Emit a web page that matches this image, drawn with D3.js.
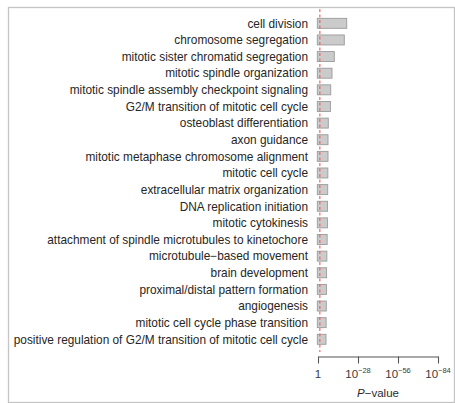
<!DOCTYPE html>
<html>
<head>
<meta charset="utf-8">
<script src="https://cdn.jsdelivr.net/npm/d3@7"></script>
<style>
  html, body { margin: 0; padding: 0; background: #fff; }
  svg { display: block; font-family: "Liberation Sans", Arial, Helvetica, sans-serif; }
</style>
</head>
<body>
<svg id="chart" width="455" height="403"></svg>
<script>
// GO biological process terms, top to bottom
const terms = [
  "cell division",
  "chromosome segregation",
  "mitotic sister chromatid segregation",
  "mitotic spindle organization",
  "mitotic spindle assembly checkpoint signaling",
  "G2/M transition of mitotic cell cycle",
  "osteoblast differentiation",
  "axon guidance",
  "mitotic metaphase chromosome alignment",
  "mitotic cell cycle",
  "extracellular matrix organization",
  "DNA replication initiation",
  "mitotic cytokinesis",
  "attachment of spindle microtubules to kinetochore",
  "microtubule\u2212based movement",
  "brain development",
  "proximal/distal pattern formation",
  "angiogenesis",
  "mitotic cell cycle phase transition",
  "positive regulation of G2/M transition of mitotic cell cycle"
];

// -log10(P-value) for each term
const negLog10P = [20.1, 18.4, 11.4, 9.8, 8.9, 8.7, 7.2, 7.0, 7.0, 6.9,
                   6.8, 6.7, 6.6, 6.4, 6.2, 6.0, 5.9, 5.8, 5.7, 5.6];

// axis ticks in -log10 units and their exponent labels
const tickValues = [0, 28, 56, 84];
const tickExponents = ["", "\u221228", "\u221256", "\u221284"];

// significance cut-off P = 0.05
const threshold = -Math.log10(0.05);

const svg = d3.select("#chart");

// panel frame
svg.append("rect")
  .attr("x", 8.5).attr("y", 7.5)
  .attr("width", 446).attr("height", 395)
  .attr("fill", "none")
  .attr("stroke", "#c4c4c4")
  .attr("stroke-width", 1.3);

const x = d3.scaleLinear().domain([0, 84]).range([318, 438]);
const y = d3.scaleBand()
  .domain(terms)
  .range([15, 347.6])
  .paddingInner(0.4)
  .paddingOuter(0.2);

// bars
svg.append("g")
  .selectAll("rect")
  .data(terms)
  .join("rect")
  .attr("x", x(0) - 0.7)
  .attr("y", d => y(d))
  .attr("width", (d, i) => x(negLog10P[i]) - x(0) + 0.7)
  .attr("height", y.bandwidth())
  .attr("fill", "#cbcbcb")
  .attr("stroke", "#9a9a9a")
  .attr("stroke-width", 0.9);

// term labels
svg.append("g")
  .selectAll("text")
  .data(terms)
  .join("text")
  .attr("x", 308)
  .attr("y", d => y(d) + y.bandwidth() / 2)
  .attr("dy", "0.36em")
  .attr("text-anchor", "end")
  .attr("font-size", 11.85)
  .attr("fill", "#262626")
  .text(d => d);

// threshold line
svg.append("line")
  .attr("x1", x(threshold)).attr("x2", x(threshold))
  .attr("y1", 9).attr("y2", 352)
  .attr("stroke", "#ef5a5a")
  .attr("stroke-width", 1.1)
  .attr("stroke-dasharray", "3,2.5");

// x axis
const axisG = svg.append("g")
  .attr("transform", "translate(0,356.5)")
  .call(d3.axisBottom(x).tickValues(tickValues).tickSize(7).tickSizeOuter(0).tickFormat(() => ""));
axisG.select(".domain").attr("stroke", "#555").attr("stroke-width", 1.1);
axisG.selectAll(".tick line").attr("stroke", "#555").attr("stroke-width", 1.1);

const labels = svg.append("g")
  .selectAll("text")
  .data(tickValues)
  .join("text")
  .attr("x", d => x(d))
  .attr("y", 377.5)
  .attr("text-anchor", "middle")
  .attr("font-size", 11.5)
  .attr("fill", "#3a3a3a");
labels.each(function (d, i) {
  const t = d3.select(this);
  if (d === 0) {
    t.text("1");
  } else {
    t.append("tspan").text("10");
    t.append("tspan").attr("dy", -5).attr("font-size", 7.5).text(tickExponents[i]);
  }
});

// axis title
const title = svg.append("text")
  .attr("x", 378)
  .attr("y", 397)
  .attr("text-anchor", "middle")
  .attr("font-size", 11.5)
  .attr("fill", "#2a2a2a");
title.append("tspan").attr("font-style", "italic").text("P");
title.append("tspan").text("\u2212value");
</script>
</body>
</html>
